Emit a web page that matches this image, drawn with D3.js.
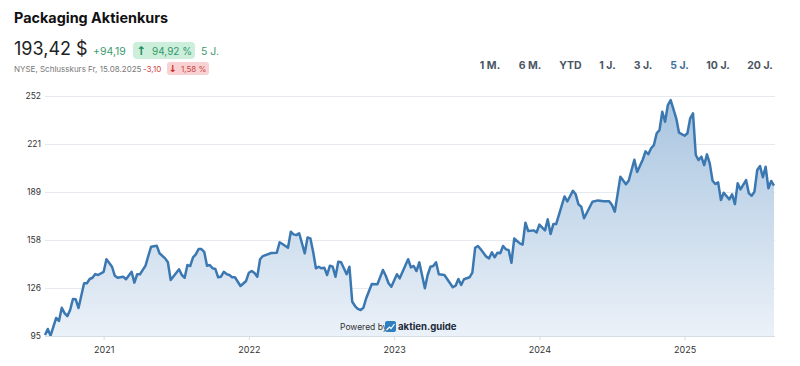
<!DOCTYPE html>
<html>

<head>
    <meta charset="UTF-8">
    <title>Packaging Aktienkurs</title>
    <script src="https://d3js.org/d3.v7.min.js"></script>
</head>
<style>
    * {
        padding: 0;
        margin: 0;
    }

    body {
        background: #fff;
        overflow: hidden;
    }

    svg {
        display: block;
        font-family: Inter, "Noto Sans", sans-serif;
    }
</style>

<body>
    <div id="data-svg"></div>
</body>
<script>
    var width = 800;
    var height = 366;

    // weekly closes, week 0 = 14.08.2020, weeks between two corners are left out
    var weeks = [0, 1, 2, 4, 5, 6, 7, 8, 9, 10, 11, 12, 14, 15, 16, 17, 18, 19, 21, 22, 24, 25, 26, 28, 29, 31, 32, 33, 34, 36,
        37, 38, 40, 41, 43, 44, 45, 48, 49, 50, 51, 52, 53, 54, 55, 56, 57, 58, 59, 60, 61, 62, 63, 64, 65, 66, 67, 68, 70, 72,
        73, 74, 75, 76, 77, 78, 81, 83, 84, 85, 87, 88, 89, 90, 91, 93, 94, 95, 96, 97, 98, 99, 100, 101, 102, 103, 104, 105, 106, 107,
        108, 109, 110, 111, 112, 113, 114, 115, 117, 119, 121, 122, 123, 124, 126, 127, 130, 131, 132, 133, 134, 136, 137, 138, 139, 140, 141, 143, 146, 147,
        148, 149, 150, 152, 153, 154, 155, 156, 158, 159, 160, 161, 162, 163, 164, 165, 166, 167, 168, 170, 171, 172, 173, 175, 176, 177, 179, 180, 181, 182,
        183, 186, 187, 189, 190, 191, 192, 193, 196, 198, 200, 202, 203, 204, 206, 208, 209, 211, 212, 214, 215, 216, 217, 218, 219, 220, 221, 222, 223, 224,
        226, 227, 229, 230, 231, 232, 233, 234, 235, 236, 237, 238, 239, 240, 241, 242, 243, 245, 246, 247, 248, 249, 251, 252, 253, 254, 255, 256, 257, 258,
        259, 260, 261];

    var prices = [95.7, 99.6, 95.2, 106.8, 104.8, 113.5, 110, 108, 112, 119.2, 119, 113.3, 129.5, 129.5, 132.3, 133.1, 135.5, 134.9, 137, 145.2, 140.3, 134.4, 133.1, 133.8, 132.1, 137, 129.9, 135.4, 135.4, 141,
        147.5, 153.4, 154.1, 149.1, 145.8, 143.2, 131.6, 138.6, 134.9, 133.1, 141.4, 140.8, 146.5, 148.4, 151.9, 151.9, 150.1, 141, 141.4, 139.3, 138.8, 133.4, 133.8, 137, 135.5, 134.9, 133.4, 133.4, 127.7, 131,
        136.4, 137.5, 136.2, 133.8, 145.2, 147.3, 149.3, 149.5, 156.3, 155.2, 152.7, 163.2, 161.5, 161, 162.2, 149.1, 159.5, 158.9, 150.1, 139.3, 140.3, 139.3, 139.7, 134.9, 141, 140.3, 133.8, 143.6, 143.2, 139.3,
        135.4, 140.3, 117.4, 114.6, 112.7, 112, 113.5, 119.7, 129, 128.8, 138.2, 134.4, 129.5, 127.2, 135.4, 132.7, 145.2, 139.9, 140.8, 137.5, 143.2, 126.2, 134.9, 140.3, 140.8, 143.2, 135.4, 134.9, 126.9, 127.9,
        132.3, 128.4, 132.1, 133.4, 136.4, 152.7, 153.9, 151.7, 146.9, 145.8, 149.7, 146.5, 149.5, 149.1, 153.9, 151.7, 151.2, 142.9, 158.8, 155.6, 154.8, 169.1, 163.7, 164.1, 162.7, 167.9, 164.1, 171.3, 161.7, 168.2,
        168.2, 186.3, 183, 190, 187.7, 181.1, 179.6, 172, 182.8, 183.7, 183.1, 183.1, 180.7, 176.3, 199.2, 194.2, 196.7, 210.3, 202.3, 210.3, 215.8, 213.9, 217.8, 219.9, 227.6, 229.7, 241.7, 235.2, 246.1, 249.3,
        237.4, 228, 226, 227.6, 237.4, 240.6, 213.4, 210.1, 212.3, 206.8, 213.8, 207.9, 196.6, 194.4, 195.5, 183.9, 188.7, 184.4, 187.7, 181.3, 194.9, 190.9, 197, 188.3, 186.8, 189.4, 203.6, 206.2, 198.8, 205.7,
        191.6, 196.4, 193.42];

    var yTicks = [95, 126.4, 157.8, 189.2, 220.6, 252];
    var yearWeeks = [21, 73, 125, 177, 229]; // first week of each year
    var yearLabels = ["2021", "2022", "2023", "2024", "2025"];
    var rangeLabels = ["1 M.", "6 M.", "YTD", "1 J.", "3 J.", "5 J.", "10 J.", "20 J."];
    var rangeCenters = [490, 530, 570.5, 607.5, 643, 679.5, 718, 760];

    var svg = d3.select("#data-svg")
        .append("svg")
        .attr("width", width)
        .attr("height", height);

    var xScale = d3.scaleLinear()
        .domain([0, 261])
        .range([45, 774]);

    var yScale = d3.scaleLinear()
        .domain([95, 252])
        .range([336, 96]);

    var defs = svg.append("defs");
    var grad = defs.append("linearGradient")
        .attr("id", "fill-grad")
        .attr("x1", 0).attr("x2", 0)
        .attr("y1", 0).attr("y2", 1);
    grad.append("stop").attr("offset", "0%").attr("stop-color", "#a9c5e0");
    grad.append("stop").attr("offset", "100%").attr("stop-color", "#ebf1f8");

    // grid + y labels
    var yAxis = d3.axisLeft(yScale)
        .tickValues(yTicks)
        .tickFormat(d3.format(".0f"))
        .tickSize(-(774 - 45 + 1))
        .tickPadding(4);

    var yG = svg.append("g")
        .attr("transform", "translate(45,0)")
        .call(yAxis);
    yG.select(".domain").remove();
    yG.selectAll("line").attr("stroke", "#e6e9ed");
    yG.selectAll("text")
        .attr("fill", "#333")
        .style("font-family", "Inter")
        .style("font-size", "8.5px");

    var area = d3.area()
        .x(function (d) { return xScale(d.week); })
        .y0(yScale(95))
        .y1(function (d) { return yScale(d.price); });

    var line = d3.line()
        .x(function (d) { return xScale(d.week); })
        .y(function (d) { return yScale(d.price); });

    var data = weeks.map(function (w, i) {
        return { week: w, price: prices[i] };
    });

    svg.append("path")
        .datum(data)
        .attr("d", area)
        .attr("fill", "url(#fill-grad)");

    svg.append("path")
        .datum(data)
        .attr("d", line)
        .attr("fill", "none")
        .attr("stroke", "#3b78b1")
        .attr("stroke-width", 2.5)
        .attr("stroke-linejoin", "round");

    var xAxis = d3.axisBottom(xScale)
        .tickValues(yearWeeks)
        .tickFormat(function (d, i) { return yearLabels[i]; })
        .tickSize(4)
        .tickPadding(7)
        .tickSizeOuter(0);

    var xG = svg.append("g")
        .attr("transform", "translate(0,336)")
        .call(xAxis);
    xG.select(".domain").attr("stroke", "#d5dce6");
    xG.selectAll("line").attr("stroke", "#d5dce6");
    xG.selectAll("text")
        .attr("fill", "#333")
        .style("font-family", "Inter")
        .style("font-size", "9px");

    // header
    function label(x, y, str, size, color, weight, anchor) {
        return svg.append("text")
            .attr("x", x)
            .attr("y", y)
            .attr("fill", color)
            .attr("font-size", size)
            .attr("font-weight", weight || 400)
            .attr("text-anchor", anchor || "start")
            .text(str);
    }

    label(14, 23, "Packaging Aktienkurs", 14.4, "#111", 700);
    label(14, 55, "193,42 $", 18, "#222", 400);
    label(93, 55, "+94,19", 10.5, "#3d9a6c", 400);

    svg.append("rect").attr("x", 133).attr("y", 42).attr("width", 62).attr("height", 17)
        .attr("rx", 4).attr("fill", "#cdeedb");
    label(136, 55, "↑", 12, "#1f8f5c", 700).style("font-family", "DejaVu Sans");
    label(152, 55, "94,92 %", 10, "#2f9a68", 400);
    label(201, 55, "5 J.", 10.5, "#3d9a6c", 400);

    label(14, 72, "NYSE, Schlusskurs Fr, 15.08.2025", 8, "#777", 400);
    label(143, 72, "-3,10", 8, "#c44", 400);
    svg.append("rect").attr("x", 167).attr("y", 62).attr("width", 42).attr("height", 13)
        .attr("rx", 3).attr("fill", "#f8d2d2");
    label(169, 72, "↓", 9.5, "#c22", 700).style("font-family", "DejaVu Sans");
    label(181, 72, "1,58 %", 8, "#c44", 400);

    rangeLabels.forEach(function (d, i) {
        label(rangeCenters[i], 69, d, 10.5, d == "5 J." ? "#3f7199" : "#4b5563", 700, "middle");
    });

    // powered by
    label(340, 330, "Powered by", 8.5, "#333", 400);
    svg.append("rect").attr("x", 385).attr("y", 321).attr("width", 11).attr("height", 11)
        .attr("rx", 2).attr("fill", "#2f7fc0");
    svg.append("path")
        .attr("d", "M386.5,330 L389.5,327 L391,328.5 L394.5,324")
        .attr("fill", "none")
        .attr("stroke", "#fff")
        .attr("stroke-width", 1.2);
    label(398, 330, "aktien.guide", 9.6, "#1d2b3a", 700);
</script>

</html>
